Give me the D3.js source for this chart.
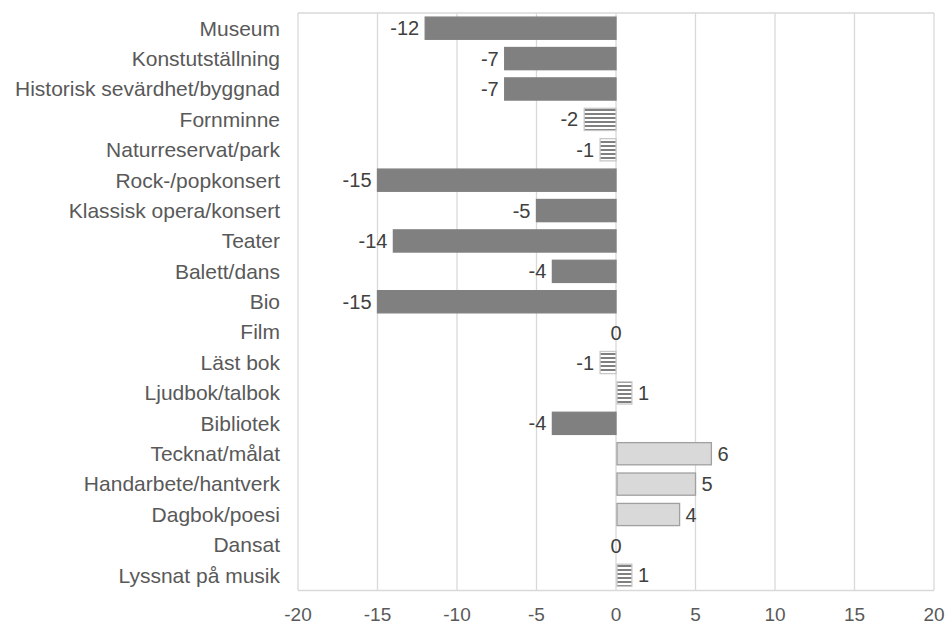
<!DOCTYPE html>
<html>
<head>
<meta charset="utf-8">
<script src="https://cdn.jsdelivr.net/npm/d3@7"></script>
<style>
  body { margin: 0; background: #fff; }
  text { font-family: "Liberation Sans", Arial, sans-serif; fill: #595959; }
</style>
</head>
<body>
<div id="chart"></div>
<script>
// category labels, top to bottom
var categories = [
    'Museum', 'Konstutställning', 'Historisk sevärdhet/byggnad', 'Fornminne',
    'Naturreservat/park', 'Rock-/popkonsert', 'Klassisk opera/konsert', 'Teater',
    'Balett/dans', 'Bio', 'Film', 'Läst bok', 'Ljudbok/talbok', 'Bibliotek',
    'Tecknat/målat', 'Handarbete/hantverk', 'Dagbok/poesi', 'Dansat', 'Lyssnat på musik'
];
var values = [-12, -7, -7, -2, -1, -15, -5, -14, -4, -15, 0, -1, 1, -4, 6, 5, 4, 0, 1];
// 'h' = hatched (small change), 'l' = light, 'd' = dark
var styles = ['d', 'd', 'd', 'h', 'h', 'd', 'd', 'd', 'd', 'd', 'd', 'h', 'h', 'd', 'l', 'l', 'l', 'l', 'h'];
var xTicks = [-20, -15, -10, -5, 0, 5, 10, 15, 20];

var W = 949, H = 626;
var margin = { top: 13, right: 15, bottom: 35.5, left: 298 };

var svg = d3.select('#chart').append('svg')
    .attr('width', W).attr('height', H);

var defs = svg.append('defs');
var pat = defs.append('pattern')
    .attr('id', 'hatch')
    .attr('patternUnits', 'userSpaceOnUse')
    .attr('width', 8).attr('height', 4);
pat.append('rect').attr('width', 8).attr('height', 4).attr('fill', '#fff');
pat.append('rect').attr('y', 1).attr('width', 8).attr('height', 2).attr('fill', '#808080');

var x = d3.scaleLinear().domain([-20, 20]).range([margin.left, W - margin.right]);
var y = d3.scaleBand().domain(categories).range([margin.top, H - margin.bottom]).paddingInner(0.27).paddingOuter(0.135);

// gridlines
svg.append('g').selectAll('line').data(xTicks).join('line')
    .attr('x1', d => x(d)).attr('x2', d => x(d))
    .attr('y1', margin.top).attr('y2', H - margin.bottom)
    .attr('stroke', '#d9d9d9').attr('stroke-width', 1.3);
svg.append('line')
    .attr('x1', margin.left).attr('x2', W - margin.right)
    .attr('y1', margin.top).attr('y2', margin.top)
    .attr('stroke', '#d9d9d9').attr('stroke-width', 1.3);
svg.append('line')
    .attr('x1', margin.left).attr('x2', W - margin.right)
    .attr('y1', H - margin.bottom).attr('y2', H - margin.bottom)
    .attr('stroke', '#d9d9d9').attr('stroke-width', 1.3);

// x axis labels
svg.append('g').selectAll('text').data(xTicks).join('text')
    .attr('x', d => x(d)).attr('y', H - 5)
    .attr('text-anchor', 'middle')
    .style('font-size', '19px')
    .text(d => d);

// category labels
svg.append('g').selectAll('text').data(categories).join('text')
    .attr('x', margin.left - 18)
    .attr('y', d => y(d) + y.bandwidth() / 2)
    .attr('dy', '0.35em')
    .attr('text-anchor', 'end')
    .style('font-size', '21px')
    .text(d => d);

var rows = categories.map((c, i) => ({ cat: c, v: values[i], s: styles[i] }));

function fillOf(d) {
    if (d.s === 'h') return 'url(#hatch)';
    if (d.s === 'l') return '#d9d9d9';
    return '#808080';
}
function strokeOf(d) {
    if (d.s === 'h') return '#c8c8c8';
    if (d.s === 'l') return '#a0a0a0';
    return '#808080';
}

svg.append('g').selectAll('rect').data(rows.filter(d => d.v !== 0)).join('rect')
    .attr('x', d => x(Math.min(0, d.v)) + (d.v > 0 ? 1 : 0))
    .attr('y', d => y(d.cat))
    .attr('width', d => Math.abs(x(d.v) - x(0)) - (d.v > 0 ? 1 : 0))
    .attr('height', y.bandwidth())
    .attr('fill', fillOf)
    .attr('stroke', strokeOf)
    .attr('stroke-width', 1.3);

// value labels
svg.append('g').selectAll('text').data(rows).join('text')
    .attr('x', d => d.v < 0 ? x(d.v) - 6 : d.v > 0 ? x(d.v) + 6 : x(0))
    .attr('y', d => y(d.cat) + y.bandwidth() / 2 + (d.v === 0 ? 1 : 0))
    .attr('dy', '0.35em')
    .attr('text-anchor', d => d.v < 0 ? 'end' : d.v > 0 ? 'start' : 'middle')
    .style('font-size', '20px')
    .style('fill', '#404040')
    .text(d => d.v);
</script>
</body>
</html>
